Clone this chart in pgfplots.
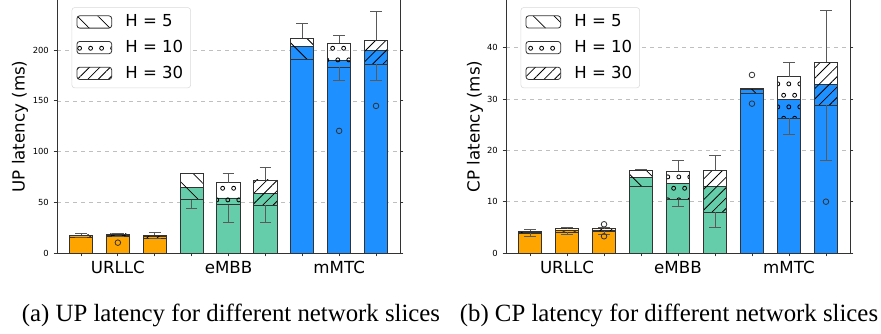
\documentclass[border=0pt]{standalone}
\usepackage{fontspec}
\setmainfont{DejaVu Sans}
\newfontfamily\capfont{Liberation Serif}
\usepackage{pgfplots}
\pgfplotsset{compat=1.18}
\usetikzlibrary{patterns.meta}
\definecolor{cO}{HTML}{FFA500}
\definecolor{cG}{HTML}{66CDAA}
\definecolor{cB}{HTML}{1E90FF}

\tikzdeclarepattern{
  name=hcirc,
  type=uncolored,
  bounding box={(0pt,0pt) and (8.25pt,17.5pt)},
  tile size={(8.25pt,17.5pt)},
  code={
    \draw[line width=0.65pt] (2.1pt,4.4pt) circle[radius=1.55pt];
    \draw[line width=0.65pt] (6.2pt,13.1pt) circle[radius=1.55pt];
  }
}
\tikzset{
  h5/.style={pattern={Lines[angle=-45,distance=11pt,line width=0.6pt]}},
  h10/.style={pattern=hcirc},
  h30/.style={pattern={Lines[angle=45,distance=5.5pt,line width=0.6pt]}},
}

\pgfplotsset{
  bar/.style={forget plot, ybar, bar width=0.63, bar shift=0pt, draw=black!80, line width=0.6pt},
  box/.style={forget plot, draw=black!80, line width=0.6pt, mark=none},
  whisk/.style={forget plot, draw=none, mark=none, error bars/.cd, y dir=#1, y explicit, error mark=-, error mark options={rotate=90, black!65, mark size=4.4pt, line width=0.6pt}, error bar style={black!65, line width=0.6pt}},
  outl/.style={forget plot, only marks, mark=o, mark size=2.1pt, mark options={black!80, line width=0.6pt}},
}
\pgfplotsset{myax/.style={
  scale only axis, height=189.75pt,
  xmin=-0.65, xmax=8.65, ymin=0,
  axis x line*=bottom,
  xtick={0,...,8}, xticklabels={,URLLC,,,eMBB,,,mMTC,},
  tick align=outside, major tick length=2.6pt,
  ymajorgrids, grid style={dashed, black!25, line width=0.5pt},
  axis line style={black!80, line width=0.6pt},
  tick style={black!80, line width=0.6pt},
  /pgf/number format/assume math mode=true,
  xticklabel style={font=\fontsize{12.5}{15}\selectfont},
  yticklabel style={font=\fontsize{6.3}{7.5}\selectfont},
  ylabel style={font=\fontsize{12.5}{15}\selectfont},
  legend style={anchor=north west, at={(axis description cs:0,1)}, xshift=11pt, yshift=-5.5pt, draw=black!15, rounded corners=2pt, font=\fontsize{12.4}{14}\selectfont, row sep=4.6pt, inner sep=3.5pt, /tikz/every odd column/.append style={column sep=8pt}},
  legend cell align=left,
}}
\newcommand{\leg}{%
  \addlegendimage{legend image code/.code={\draw[draw=black!80, line width=0.6pt, h5] (0pt,-4.6pt) rectangle (26pt,4.6pt);}}
  \addlegendentry{H = 5}
  \addlegendimage{legend image code/.code={\draw[draw=black!80, line width=0.6pt, h10] (0pt,-4.6pt) rectangle (26pt,4.6pt);}}
  \addlegendentry{H = 10}
  \addlegendimage{legend image code/.code={\draw[draw=black!80, line width=0.6pt, h30] (0pt,-4.6pt) rectangle (26pt,4.6pt);}}
  \addlegendentry{H = 30}
}

\begin{document}
\begin{tikzpicture}
\useasboundingbox (0pt,0pt) rectangle (660.75pt,-249.75pt);

% ---------- (a) UP latency ----------
\begin{axis}[myax, at={(42.75pt,-189.75pt)}, anchor=south west, width=257.25pt,
  ymax=249.4, ytick={0,50,100,150,200},
  ylabel={UP latency (ms)},
  every axis y label/.append style={at={(axis description cs:-0.1079,0.5)}, anchor=center},
]
% mean bars
\addplot[bar, fill=cO] coordinates {(0,17) (1,17.5) (2,16.5)};
\addplot[bar, fill=cG] coordinates {(3,64.5) (4,54.3) (5,58.6)};
\addplot[bar, fill=cB] coordinates {(6,203.3) (7,190) (8,200)};
% boxes (Q1 to Q3)
\addplot[box, h5]  coordinates {(-0.315,15.8) (0.315,15.8) (0.315,17.8) (-0.315,17.8) (-0.315,15.8)};
\addplot[box, h10] coordinates {(0.685,16.5) (1.315,16.5) (1.315,18.8) (0.685,18.8) (0.685,16.5)};
\addplot[box, h30] coordinates {(1.685,14.8) (2.315,14.8) (2.315,17.6) (1.685,17.6) (1.685,14.8)};
\addplot[box, h5]  coordinates {(2.685,52.5) (3.315,52.5) (3.315,78) (2.685,78) (2.685,52.5)};
\addplot[box, h10] coordinates {(3.685,47.8) (4.315,47.8) (4.315,69.5) (3.685,69.5) (3.685,47.8)};
\addplot[box, h30] coordinates {(4.685,47.4) (5.315,47.4) (5.315,72) (4.685,72) (4.685,47.4)};
\addplot[box, h5]  coordinates {(5.685,190.8) (6.315,190.8) (6.315,211.6) (5.685,211.6) (5.685,190.8)};
\addplot[box, h10] coordinates {(6.685,183) (7.315,183) (7.315,207) (6.685,207) (6.685,183)};
\addplot[box, h30] coordinates {(7.685,185.9) (8.315,185.9) (8.315,209.6) (7.685,209.6) (7.685,185.9)};
% whiskers
\addplot[whisk=plus] coordinates {(0,17.8) += (0,1.2) (1,18.8) += (0,0.7) (2,17.6) += (0,2.4) (4,69.5) += (0,9.2) (5,72) += (0,12.3) (6,211.6) += (0,15.1) (7,207) += (0,7.5) (8,209.6) += (0,28.9)};
\addplot[whisk=minus] coordinates {(0,15.8) -= (0,0.5) (1,16.5) -= (0,0.5) (2,14.8) -= (0,0.8) (3,52.5) -= (0,8.7) (4,47.8) -= (0,17.5) (5,47.4) -= (0,17.1) (7,183) -= (0,13.2) (8,185.9) -= (0,16.1)};
% outliers
\addplot[outl] coordinates {(1,10.2) (7,120.4) (8,145)};
\leg
\end{axis}

% ---------- (b) CP latency ----------
\begin{axis}[myax, at={(379.5pt,-189.75pt)}, anchor=south west, width=258pt,
  ymax=49.3, ytick={0,10,20,30,40},
  ylabel={CP latency (ms)},
  every axis y label/.append style={at={(axis description cs:-0.0901,0.5)}, anchor=center},
]
\addplot[bar, fill=cO] coordinates {(0,4.0) (1,4.5) (2,4.5)};
\addplot[bar, fill=cG] coordinates {(3,14.8) (4,13.5) (5,13.0)};
\addplot[bar, fill=cB] coordinates {(6,31.8) (7,30.0) (8,32.85)};
\addplot[box, h5]  coordinates {(-0.315,3.85) (0.315,3.85) (0.315,4.23) (-0.315,4.23) (-0.315,3.85)};
\addplot[box, h10] coordinates {(0.685,4.1) (1.315,4.1) (1.315,4.7) (0.685,4.7) (0.685,4.1)};
\addplot[box, h30] coordinates {(1.685,4.23) (2.315,4.23) (2.315,4.7) (1.685,4.7) (1.685,4.23)};
\addplot[box, h5]  coordinates {(2.685,13.0) (3.315,13.0) (3.315,16.1) (2.685,16.1) (2.685,13.0)};
\addplot[box, h10] coordinates {(3.685,10.4) (4.315,10.4) (4.315,15.9) (3.685,15.9) (3.685,10.4)};
\addplot[box, h30] coordinates {(4.685,7.9) (5.315,7.9) (5.315,16.1) (4.685,16.1) (4.685,7.9)};
\addplot[box, h5]  coordinates {(5.685,31.1) (6.315,31.1) (6.315,32.0) (5.685,32.0) (5.685,31.1)};
\addplot[box, h10] coordinates {(6.685,26.3) (7.315,26.3) (7.315,34.35) (6.685,34.35) (6.685,26.3)};
\addplot[box, h30] coordinates {(7.685,28.8) (8.315,28.8) (8.315,37.15) (7.685,37.15) (7.685,28.8)};
\addplot[whisk=plus] coordinates {(0,4.23) += (0,0.33) (1,4.7) += (0,0.25) (2,4.7) += (0,0.2) (3,16.1) += (0,0.2) (4,15.9) += (0,2.2) (5,16.1) += (0,3.0) (7,34.35) += (0,2.8) (8,37.15) += (0,10.05)};
\addplot[whisk=minus] coordinates {(0,3.85) -= (0,0.59) (1,4.1) -= (0,0.5) (2,4.23) -= (0,0.63) (4,10.4) -= (0,1.4) (5,7.9) -= (0,2.95) (7,26.3) -= (0,3.2) (8,28.8) -= (0,10.7)};
\addplot[outl] coordinates {(2,5.6) (2,3.26) (6,34.7) (6,29.1) (8,10.0)};
\leg
\end{axis}

\node[font=\capfont\fontsize{18.6}{22}\selectfont, anchor=base] at (173.25pt,-240.75pt) {(a) UP latency for different network slices};
\node[font=\capfont\fontsize{18.6}{22}\selectfont, anchor=base] at (501.75pt,-240.75pt) {(b) CP latency for different network slices};
\end{tikzpicture}
\end{document}
